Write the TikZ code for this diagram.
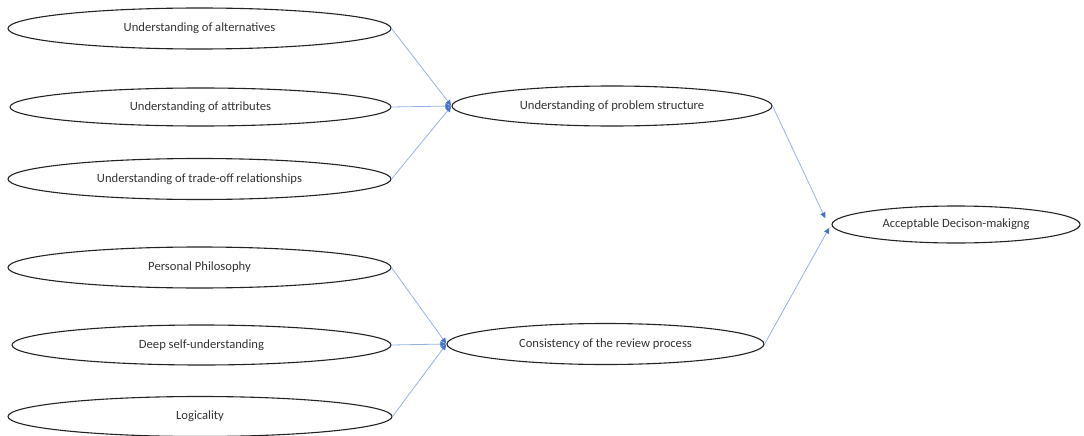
\documentclass[tikz,border=0pt]{standalone}
\usepackage{fontspec}
\setmainfont{Carlito}
\usetikzlibrary{shapes.geometric,arrows.meta,calc}
\definecolor{linecol}{RGB}{150,178,226}
\definecolor{tipcol}{RGB}{68,114,196}
\definecolor{edgecol}{RGB}{35,35,35}
\begin{document}
\begin{tikzpicture}[x=1pt,y=-1pt,
  oval/.style={ellipse, draw=edgecol, line width=1.1pt, inner sep=0pt, font=\fontsize{12.6}{14}\selectfont, text=black!80},
  link/.style={draw=linecol, line width=0.8pt, -{Latex[length=6pt,width=6pt,color=tipcol]}}
]
\useasboundingbox (0,0) rectangle (1084,436);
\node[oval, minimum width=383pt, minimum height=41pt] (a1) at (199.5,28.5) {Understanding of alternatives};
\node[oval, minimum width=381pt, minimum height=38pt] (a2) at (200.5,107) {Understanding of attributes};
\node[oval, minimum width=383pt, minimum height=41pt] (a3) at (199.5,179) {Understanding of trade-off relationships};
\node[oval, minimum width=383pt, minimum height=41pt] (p1) at (199.5,267.5) {Personal Philosophy};
\node[oval, minimum width=379pt, minimum height=40pt] (p2) at (201.5,345) {Deep self-understanding};
\node[oval, minimum width=384pt, minimum height=40pt] (p3) at (200,416.5) {Logicality};
\node[oval, minimum width=320pt, minimum height=40pt] (m1) at (612,106) {Understanding of problem structure};
\node[oval, minimum width=317pt, minimum height=41pt] (m2) at (605.5,344) {Consistency of the review process};
\node[oval, minimum width=248pt, minimum height=37pt] (acc) at (956,224.5) {Acceptable Decison-makigng};
\coordinate (accin1) at ($(acc.west)+(-6,-6)$);
\coordinate (accin2) at ($(acc.west)+(-2,3)$);
\draw[link] (a1.east) -- (m1.west);
\draw[link] (a2.east) -- (m1.west);
\draw[link] (a3.east) -- (m1.west);
\draw[link] (p1.east) -- (m2.west);
\draw[link] (p2.east) -- (m2.west);
\draw[link] (p3.east) -- (m2.west);
\draw[link] (m1.east) -- (accin1);
\draw[link] (m2.east) -- (accin2);
\end{tikzpicture}
\end{document}
